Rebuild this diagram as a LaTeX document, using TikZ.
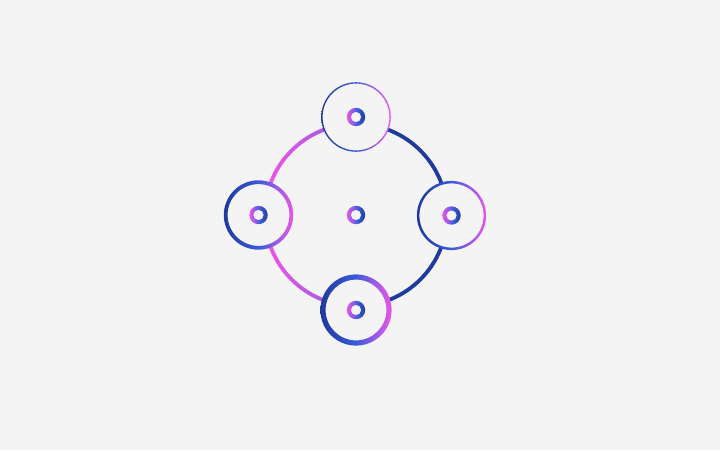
\documentclass[tikz,border=0pt]{standalone}
\usepackage{tikz, xcolor}

\definecolor{bgcolor}{HTML}{F4F4F4}
\definecolor{ringnavy}{HTML}{1F3A9C}
\definecolor{ringblue}{HTML}{3A5BDC}
\definecolor{ringviolet}{HTML}{9A5AE6}
\definecolor{ringpink}{HTML}{EA55E6}

% pink on the left half, navy on the right half
\pgfdeclarehorizontalshading{bigring}{100bp}{color(0bp)=(ringpink); color(27bp)=(ringpink); color(45bp)=(ringviolet); color(52bp)=(ringnavy); color(100bp)=(ringnavy)}
% navy -> blue -> pink, left to right
\pgfdeclarehorizontalshading{satring}{100bp}{color(0bp)=(ringnavy); color(25bp)=(ringnavy); color(50bp)=(ringblue); color(63bp)=(ringviolet); color(75bp)=(ringpink); color(100bp)=(ringpink)}
% pink -> blue -> navy, left to right
\pgfdeclarehorizontalshading{dotring}{100bp}{color(0bp)=(ringpink); color(25bp)=(ringpink); color(40bp)=(ringviolet); color(55bp)=(ringblue); color(75bp)=(ringnavy); color(100bp)=(ringnavy)}

\begin{document}
\begin{tikzpicture}[x=1pt, y=-1pt,
  outerring/.style={even odd rule, shading=satring},
  innerring/.style={even odd rule, shading=dotring}]

% background
\fill[bgcolor] (0,0) rectangle (720,450);

% centres of the rings
\coordinate (hub) at (356,215);
\coordinate (top) at (356,117); \coordinate (bottom) at (356,310);
\coordinate (left) at (258.5,215); \coordinate (right) at (451.5,215.5);

% big ring through the four satellites
\shade[even odd rule, shading=bigring] (hub) circle[radius=93pt] (hub) circle[radius=89.2pt];

% Top satellite (thin)
\fill[bgcolor] (top) circle[radius=34pt];
\shade[outerring] (top) circle[radius=34.8pt] (top) circle[radius=33.4pt];
\shade[innerring] (top) circle[radius=9.2pt] (top) circle[radius=5.2pt];

% Right satellite
\fill[bgcolor] (right) circle[radius=33.5pt];
\shade[outerring] (right) circle[radius=34.6pt] (right) circle[radius=32.1pt];
\shade[innerring] (right) circle[radius=9.2pt] (right) circle[radius=5.2pt];

% Left satellite
\fill[bgcolor] (left) circle[radius=33pt];
\shade[outerring] (left) circle[radius=34.7pt] (left) circle[radius=30.9pt];
\shade[innerring] (left) circle[radius=9.2pt] (left) circle[radius=5.2pt];

% Bottom satellite (thick)
\fill[bgcolor] (bottom) circle[radius=33pt];
\shade[outerring] (bottom) circle[radius=35.6pt] (bottom) circle[radius=30.4pt];
\shade[innerring] (bottom) circle[radius=9.2pt] (bottom) circle[radius=5.2pt];

% hub
\shade[innerring] (hub) circle[radius=9.2pt] (hub) circle[radius=5.2pt];

\end{tikzpicture}
\end{document}
